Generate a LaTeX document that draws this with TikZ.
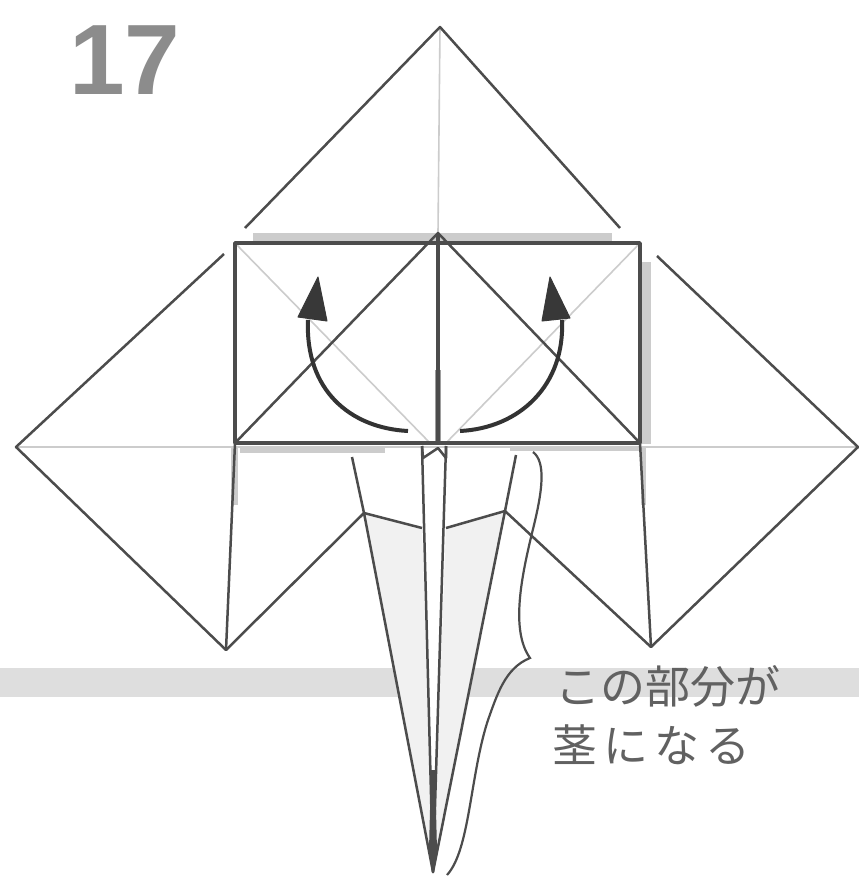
\documentclass[tikz,border=0pt]{standalone}
\usepackage{fontspec}
\setmainfont{Liberation Sans}
\newfontfamily\cjkfont{Noto Sans CJK JP}
\usetikzlibrary{arrows.meta}
\definecolor{inkline}{gray}{0.30}
\definecolor{softline}{gray}{0.80}
\definecolor{midline}{gray}{0.62}
\definecolor{shadowgray}{gray}{0.80}
\definecolor{bandgray}{gray}{0.87}
\definecolor{paleshade}{gray}{0.945}
\tikzset{
  fold/.style={draw=inkline,line width=2.5pt,line join=round},
  heavy/.style={draw=inkline,line width=3.4pt,line join=round},
  crease/.style={draw=softline,line width=1.6pt},
  shadowfill/.style={fill=shadowgray,draw=none},
  flip/.style={draw=black!80,line width=4pt},
  fliphead/.style={fill=black!78,draw=black!78,line width=1pt,line join=round},
  caption/.style={font=\cjkfont\fontsize{45}{58}\selectfont,text=black!62,anchor=west,inner sep=0pt},
}
\begin{document}
\begin{tikzpicture}[x=1pt,y=-1pt]
\useasboundingbox (0,0) rectangle (859,876);
\fill[white] (0,0) rectangle (859,876);
% key points
\coordinate (apex) at (440,27);
\coordinate (tl) at (245,228);
\coordinate (tr) at (620,228);
\coordinate (peak) at (438,233);
\coordinate (rtl) at (235,243);
\coordinate (rtr) at (640,243);
\coordinate (rbl) at (235,443);
\coordinate (rbr) at (640,443);
\coordinate (mid) at (438,443);
\coordinate (la) at (224,254);
\coordinate (lw) at (16,447);
\coordinate (lb) at (226,650);
\coordinate (ra) at (657,256);
\coordinate (re) at (858,447);
\coordinate (rb) at (651,647);
\coordinate (tip) at (433,872);
\coordinate (sl) at (422,446);
\coordinate (sr) at (446,446);
\coordinate (kl) at (364,513);
\coordinate (kr) at (505,511);
\coordinate (ul) at (352,457);
\coordinate (ur) at (516,455);
\coordinate (nl) at (422,528);
\coordinate (nr) at (446,528);
% band and shading
\fill[bandgray] (0,668) rectangle (859,697);
\fill[white] (kl) -- (nl) -- (sl) -- (sr) -- (nr) -- (kr) -- (tip) -- cycle;
\fill[paleshade] (kl) -- (nl) -- (431,800) -- (tip) -- cycle;
\fill[paleshade] (kr) -- (nr) -- (436,800) -- (tip) -- cycle;
% soft shadows
\fill[shadowfill] (253,233) rectangle (612,241);
\fill[shadowfill] (642,262) rectangle (651,444);
\fill[shadowfill] (240,446) rectangle (385,453);
\fill[shadowfill] (510,446) rectangle (640,451);
\fill[shadowfill] (231,446) rectangle (238,505);
\fill[shadowfill] (641,446) rectangle (646,505);
% creases
\draw[crease] (apex) -- (peak);
\draw[crease] (lw) -- (re);
\draw[crease] (rtl) -- (430,443);
\draw[crease] (rtr) -- (446,443);
\draw[midline,line width=6pt] (mid) -- (438,370);
% outer folds
\draw[fold] (tl) -- (apex) -- (tr);
\draw[fold] (la) -- (lw) -- (lb) -- (kl);
\draw[fold] (ra) -- (re) -- (rb) -- (kr);
\draw[fold] (rbl) -- (lb);
\draw[fold] (rbr) -- (rb);
% square
\draw[heavy] (rtl) -- (rbl) -- (rbr) -- (rtr) -- cycle;
\draw[fold] (rbl) -- (peak) -- (rbr);
\draw[heavy] (peak) -- (mid);
% stem
\draw[fold] (ul) -- (kl) -- (tip) -- (kr) -- (ur);
\draw[fold] (kl) -- (nl);
\draw[fold] (kr) -- (nr);
\draw[fold] (sl) -- (tip) -- (sr);
\draw[fold] (sl) -- (423,458) -- (438,448) -- (446,458) -- (sr);
\fill[inkline] (431,770) -- (435,770) -- (437,850) -- (tip) -- (429,850) -- cycle;
% curved arrows
\coordinate (al) at (408,431);
\coordinate (ale) at (308,320);
\coordinate (ar) at (460,431);
\coordinate (are) at (562,320);
\draw[flip] (al) .. controls (350,428) and (305,390) .. (ale);
\draw[flip] (ar) .. controls (520,428) and (565,385) .. (are);
\draw[fliphead] (318,277) -- (298,317) -- (327,321) -- cycle;
\draw[fliphead] (550,277) -- (542,321) -- (570,318) -- cycle;
% brace
\coordinate (bs) at (533,452);
\coordinate (bt) at (530,658);
\coordinate (be) at (447,875);
\draw[draw=inkline,line width=2.2pt] (bs) .. controls (546,462) and (543,490) .. (532,533)
  .. controls (522,575) and (510,630) .. (bt)
  .. controls (505,668) and (497,695) .. (488,720)
  .. controls (470,775) and (470,850) .. (be);
% labels
\node[anchor=west,inner sep=0pt,text=black!45] (num) at (69,60) {\fontsize{100}{100}\selectfont\bfseries 17};
\node[caption] (cap1) at (555,686) {この部分が};
\node[caption] (cap2) at (552,745) {茎\hspace{6pt}に\hspace{6pt}な\hspace{6pt}る};
\end{tikzpicture}
\end{document}
